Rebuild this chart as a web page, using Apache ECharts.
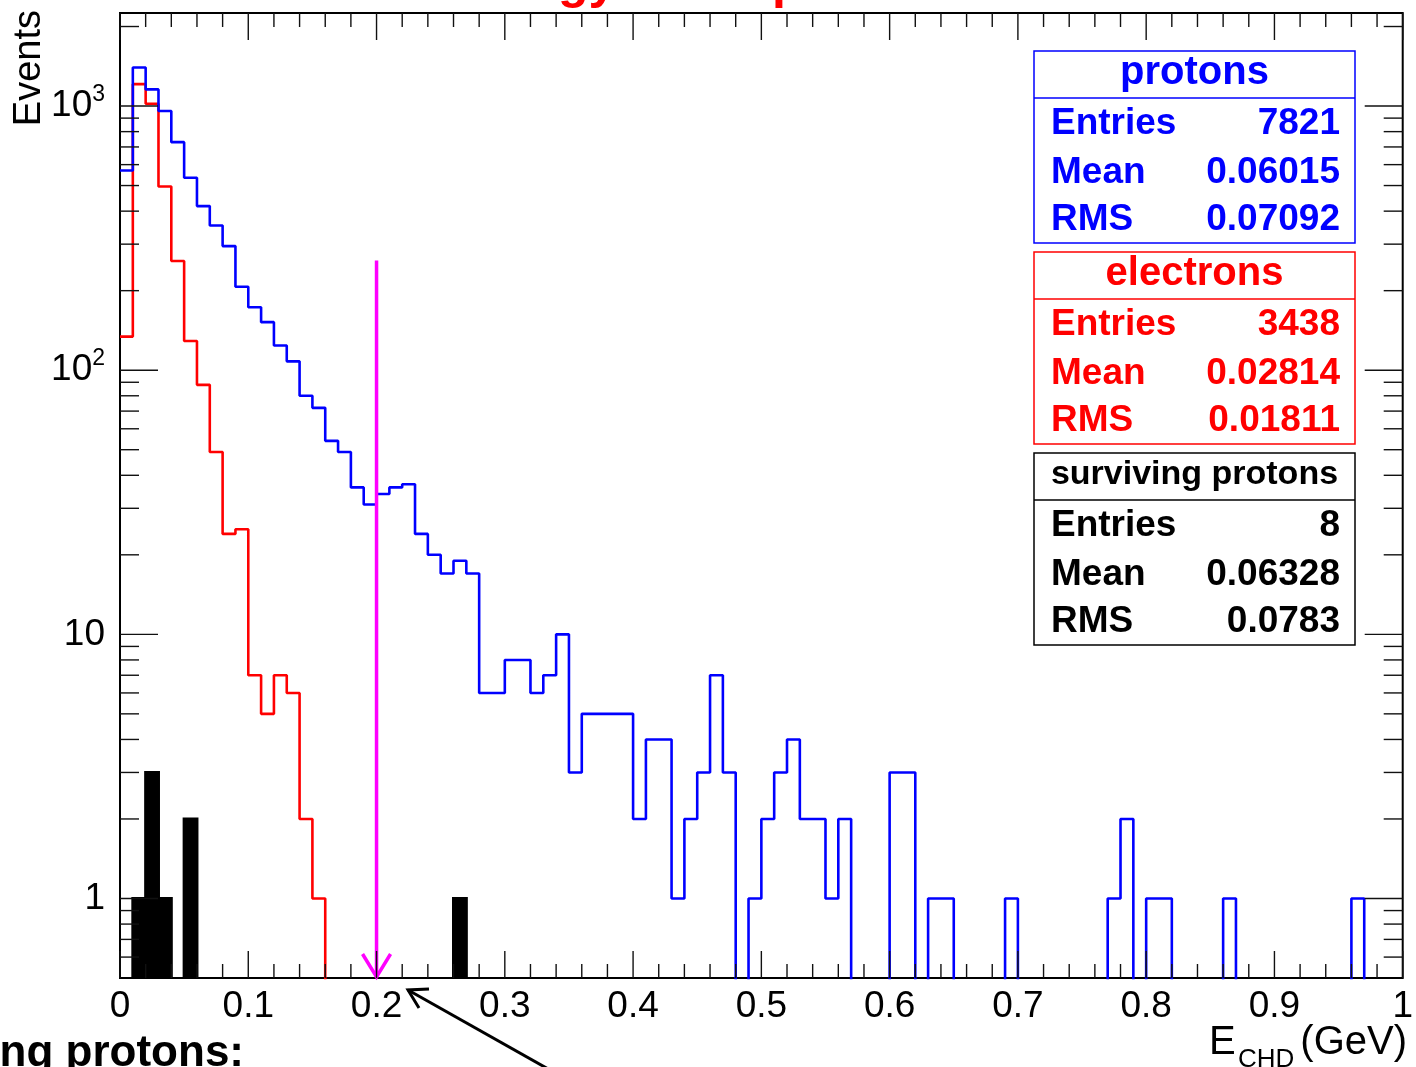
<!DOCTYPE html>
<html><head><meta charset="utf-8">
<script src="https://cdn.jsdelivr.net/npm/echarts@6/dist/echarts.min.js"></script>
<style>html,body{margin:0;padding:0;background:#fff;overflow:hidden}#c{width:1416px;height:1067px}</style>
</head><body><div id="c"></div>
<script>
// ---------- data ----------
const binWidth = 0.01;
const protonCounts = [
  570,1400,1156,957,730,535,418,353,295,207,
  173,152,124,108,80,72,54,49,36,31,
  34,36,37,24,20,17,19,17,6,6,
  8,8,6,7,10,3,5,5,5,5,
  2,4,4,1,2,3,7,3,0,1,
  2,3,4,2,2,1,2,0,0,0,
  3,3,0,1,1,0,0,0,0,1,
  0,0,0,0,0,0,0,1,2,0,
  1,1,0,0,0,0,1,0,0,0,
  0,0,0,0,0,0,1,0,0,0
];
const electronCounts = [
  134,1210,1020,496,259,129,88,49,24,25,
  7,5,7,6,2,1,0,0,0,0,
  0,0,0,0,0,0,0,0,0,0,
  0,0,0,0,0,0,0,0,0,0,
  0,0,0,0,0,0,0,0,0,0,
  0,0,0,0,0,0,0,0,0,0,
  0,0,0,0,0,0,0,0,0,0,
  0,0,0,0,0,0,0,0,0,0,
  0,0,0,0,0,0,0,0,0,0,
  0,0,0,0,0,0,0,0,0,0
];
const survivingCounts = [
  0,1,3,1,0,2,0,0,0,0,
  0,0,0,0,0,0,0,0,0,0,
  0,0,0,0,0,0,1,0,0,0,
  0,0,0,0,0,0,0,0,0,0,
  0,0,0,0,0,0,0,0,0,0,
  0,0,0,0,0,0,0,0,0,0,
  0,0,0,0,0,0,0,0,0,0,
  0,0,0,0,0,0,0,0,0,0,
  0,0,0,0,0,0,0,0,0,0,
  0,0,0,0,0,0,0,0,0,0
];
const xTickLabels = ['0','0.1','0.2','0.3','0.4','0.5','0.6','0.7','0.8','0.9','1'];
const yTickLabels = ['1','10','10{sup|2}','10{sup|3}'];
const yMin = 0.5, yMax = 2250;
const cutValue = 0.2, cutArrowTop = 260;
const statLabels = ['Entries','Mean','RMS'];
const protonStats = ['7821','0.06015','0.07092'];
const electronStats = ['3438','0.02814','0.01811'];
const survivingStats = ['8','0.06328','0.0783'];

// ---------- helpers ----------
const FONT = '"Liberation Sans", Arial, Helvetica, sans-serif';
const FLOOR = 0.01;
function stepData(counts){
  const pts = counts.map((v,i)=>[+(i*binWidth).toFixed(4), v>0?v:FLOOR]);
  pts.push([+(counts.length*binWidth).toFixed(4), FLOOR]);
  return pts;
}
const xMajorTicks = [], xMinorTicks = [];
for (let i=0;i<=50;i++){ const v=+(i*0.02).toFixed(4); if(i%5===0) xMajorTicks.push(v); else xMinorTicks.push(v); }
const yMajorTicks = [1,10,100,1000];
const yMinorTicks = [0.6,0.7,0.8,0.9];
[1,10,100].forEach(d=>{ for(let k=2;k<=9;k++) yMinorTicks.push(d*k); });
yMinorTicks.push(2000);

function statBox(top, color, title, titleSize, values){
  const left=1034, width=321, height=192, headerH=47;
  const ch = [
    {type:'rect', shape:{x:left,y:top,width:width,height:height}, style:{fill:'#fff',stroke:color,lineWidth:1.5}},
    {type:'line', shape:{x1:left,y1:top+headerH,x2:left+width,y2:top+headerH}, style:{stroke:color,lineWidth:1.5}},
    {type:'text', x:left+width/2, y:top+22, style:{text:title,fill:color,font:'bold '+titleSize+'px '+FONT,align:'center',verticalAlign:'middle'}}
  ];
  const offs=[73,121.5,169];
  statLabels.forEach((lab,j)=>{
    ch.push({type:'text', x:1051, y:top+offs[j], style:{text:lab,fill:color,font:'bold 37px '+FONT,align:'left',verticalAlign:'middle'}});
    ch.push({type:'text', x:1340, y:top+offs[j], style:{text:values[j],fill:color,font:'bold 37px '+FONT,align:'right',verticalAlign:'middle'}});
  });
  return {type:'group', children:ch, z:100};
}

const chart = echarts.init(document.getElementById('c'), null, {renderer:'canvas', width:1416, height:1067});
const option = {
  animation:false,
  backgroundColor:'#fff',
  textStyle:{fontFamily:FONT},
  grid:{left:120,right:6,top:13,bottom:89,show:true,borderColor:'#000',borderWidth:2,backgroundColor:'transparent'},
  xAxis:{type:'value',min:0,max:1,interval:0.1,
    axisLine:{show:false},axisTick:{show:false},splitLine:{show:false},
    axisLabel:{color:'#000',fontSize:37,fontFamily:FONT,margin:10,
      formatter:v=>xTickLabels[Math.round(v*10)]}},
  yAxis:{type:'log',logBase:10,min:yMin,max:yMax,
    axisLine:{show:false},axisTick:{show:false},splitLine:{show:false},minorTick:{show:false},
    axisLabel:{color:'#000',fontFamily:FONT,margin:15,fontSize:37,
      formatter:v=>{const l=Math.log10(v);const k=Math.round(l);if(Math.abs(l-k)>1e-6||k<0||k>3)return '';return yTickLabels[k];},
      rich:{sup:{fontSize:23,lineHeight:20,verticalAlign:'top',fontFamily:FONT,color:'#000'}},
      lineHeight:46}},
  series:[
    {type:'custom',name:'surviving',coordinateSystem:'cartesian2d',clip:true,z:3,
      data:survivingCounts.map((v,i)=>[+(i*binWidth).toFixed(4),+((i+1)*binWidth).toFixed(4),v>0?v:FLOOR]),
      encode:{x:[0,1],y:2},
      renderItem:(params,api)=>{
        const v=api.value(2); if(!(v>=1)) return null;
        const p1=api.coord([api.value(0),v]); const p2=api.coord([api.value(1),yMin]);
        return {type:'rect',shape:{x:p1[0],y:p1[1],width:p2[0]-p1[0],height:p2[1]-p1[1]},
          style:{fill:'#000',stroke:'#000',lineWidth:3}};
      }},
    {type:'line',name:'electrons',data:stepData(electronCounts),step:'end',symbol:'none',clip:true,z:4,
      lineStyle:{color:'#ff0000',width:2.6}},
    {type:'line',name:'protons',data:stepData(protonCounts),step:'end',symbol:'none',clip:true,z:5,
      lineStyle:{color:'#0000ff',width:2.6}},
    {type:'custom',name:'cut',coordinateSystem:'cartesian2d',clip:false,z:6,
      data:[[cutValue,cutArrowTop]],
      renderItem:(params,api)=>{
        const top=api.coord([api.value(0),api.value(1)]); const bot=api.coord([api.value(0),yMin]);
        return {type:'group',children:[
          {type:'line',shape:{x1:top[0],y1:top[1],x2:bot[0],y2:bot[1]},style:{stroke:'#ff00ff',lineWidth:3.5}},
          {type:'polyline',shape:{points:[[bot[0]-14,bot[1]-24],[bot[0],bot[1]-1],[bot[0]+14,bot[1]-24]]},style:{stroke:'#ff00ff',lineWidth:3.5,fill:null}}
        ]};
      }},
    {type:'custom',name:'ticks',coordinateSystem:'cartesian2d',clip:false,z:7,silent:true,
      data:[[0.5,1]],
      renderItem:(params,api)=>{
        const cs=params.coordSys; const L=cs.x,R=cs.x+cs.width,T=cs.y,B=cs.y+cs.height;
        const ch=[];
        const seg=(x1,y1,x2,y2)=>ch.push({type:'line',shape:{x1,y1,x2,y2},style:{stroke:'#111',lineWidth:1.4}});
        xMajorTicks.forEach(v=>{const x=api.coord([v,1])[0];seg(x,B,x,B-27);seg(x,T,x,T+27);});
        xMinorTicks.forEach(v=>{const x=api.coord([v,1])[0];seg(x,B,x,B-14);seg(x,T,x,T+14);});
        yMajorTicks.forEach(v=>{const y=api.coord([0,v])[1];seg(L,y,L+38,y);seg(R,y,R-38,y);});
        yMinorTicks.forEach(v=>{const y=api.coord([0,v])[1];seg(L,y,L+19,y);seg(R,y,R-19,y);});
        return {type:'group',children:ch};
      }}
  ],
  graphic:[
    {type:'text',x:708,y:-16,z:100,style:{text:'Energy loss spectrum',fill:'#ff0000',font:'bold 50px '+FONT,align:'center',verticalAlign:'middle'}},
    {type:'text',x:30,y:10,rotation:Math.PI/2,z:100,style:{text:'Events',fill:'#000',font:'38px '+FONT,align:'right',verticalAlign:'middle'}},
    {type:'text',x:1209,y:1043,z:100,style:{text:'E',fill:'#000',font:'40px '+FONT,align:'left',verticalAlign:'middle'}},
    {type:'text',x:1238,y:1060,z:100,style:{text:'CHD',fill:'#000',font:'26px '+FONT,align:'left',verticalAlign:'middle'}},
    {type:'text',x:1407,y:1043,z:100,style:{text:'(GeV)',fill:'#000',font:'40px '+FONT,align:'right',verticalAlign:'middle'}},
    {type:'text',x:244,y:1054,z:100,style:{text:'Surviving protons:',fill:'#000',font:'bold 44px '+FONT,align:'right',verticalAlign:'middle'}},
    {type:'group',z:100,children:[
      {type:'line',shape:{x1:550,y1:1070,x2:408,y2:990},style:{stroke:'#000',lineWidth:3}},
      {type:'polyline',shape:{points:[[419,1008],[408,990],[429,989]]},style:{stroke:'#000',lineWidth:3,fill:null}}
    ]},
    statBox(51,'#0000ff','protons',40,protonStats),
    statBox(252,'#ff0000','electrons',40,electronStats),
    statBox(453,'#000000','surviving protons',34,survivingStats)
  ]
};
chart.setOption(option);
</script></body></html>
